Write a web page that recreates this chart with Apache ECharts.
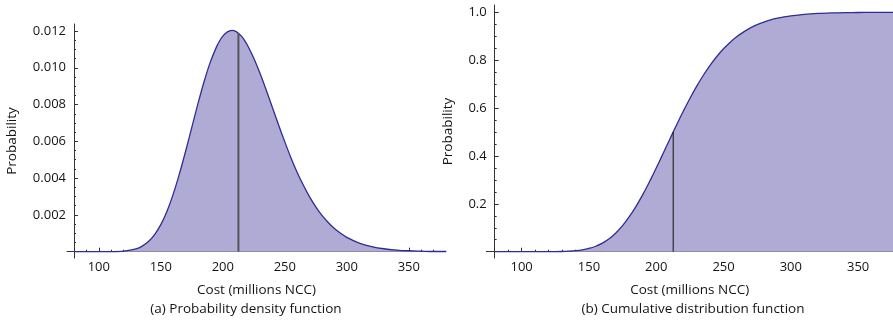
<!DOCTYPE html>
<html>
<head>
<meta charset="utf-8">
<script src="https://cdn.jsdelivr.net/npm/echarts@6/dist/echarts.min.js"></script>
<style>
html,body{margin:0;padding:0;background:#fff;}
#chart{width:893px;height:322px;}
</style>
</head>
<body>
<div id="chart"></div>
<script>
// ---- data ----
var costX = [80, 90, 100, 110, 120, 130, 135, 140, 145, 150, 155, 160, 165, 170, 175, 180, 185, 190, 195, 197.5, 200,
  202.5, 205, 207.5, 210, 212.5, 215, 217.5, 220, 225, 230, 235, 240, 245, 250, 255, 260, 265, 270, 275, 280, 285, 290, 295, 300,
  310, 320, 330, 340, 350, 360, 370, 380];
var pdfValues = [0, 0, 0, 0.000004, 0.00003, 0.00015, 0.0003, 0.00055, 0.00093, 0.00147, 0.0022, 0.00313, 0.00423, 0.00546, 0.00676, 0.00806, 0.00927, 0.01032, 0.01115, 0.01147, 0.01172,
  0.01189, 0.01199, 0.01203, 0.01199, 0.01188, 0.01172, 0.01149, 0.01121, 0.01052, 0.0097, 0.00879, 0.00784, 0.00689, 0.00597, 0.0051, 0.00431, 0.00361, 0.00298, 0.00244, 0.00197, 0.00159, 0.00126, 0.001, 0.00078,
  0.00047, 0.00028, 0.00016, 0.00009, 0.00005, 0.00003, 0.00001, 0.00001];
var cdfValues = [0, 0, 0, 0.00002, 0.00015, 0.0009, 0.002, 0.0041, 0.0077, 0.0136, 0.0228, 0.036, 0.0543, 0.0785, 0.109, 0.1461, 0.1895, 0.2384, 0.2923, 0.3207, 0.3495,
  0.379, 0.4089, 0.4391, 0.469, 0.4987, 0.5283, 0.5574, 0.5857, 0.6402, 0.6908, 0.737, 0.7785, 0.8154, 0.8475, 0.8752, 0.8987, 0.9184, 0.9348, 0.9484, 0.9593, 0.9682, 0.9753, 0.9809, 0.9854,
  0.9915, 0.9952, 0.9973, 0.9985, 0.9992, 0.9996, 0.9998, 0.9999];
var medianCost = 212.6;
var pdfAtMedian = 0.01188;
var cdfAtMedian = 0.5;

var xTickValues = [100, 150, 200, 250, 300, 350];
var xMinorTickValues = [90, 110, 120, 130, 140, 160, 170, 180, 190, 210, 220, 230, 240, 260, 270, 280, 290, 310, 320, 330, 340, 360, 370];
var pdfTickValues = [0.002, 0.004, 0.006, 0.008, 0.010, 0.012];
var pdfMinorTickValues = [0.0005, 0.001, 0.0015, 0.0025, 0.003, 0.0035, 0.0045, 0.005, 0.0055, 0.0065, 0.007, 0.0075, 0.0085, 0.009, 0.0095, 0.0105, 0.011, 0.0115];
var cdfTickValues = [0.2, 0.4, 0.6, 0.8, 1.0];
var cdfMinorTickValues = [0.05, 0.1, 0.15, 0.25, 0.3, 0.35, 0.45, 0.5, 0.55, 0.65, 0.7, 0.75, 0.85, 0.9, 0.95];

var xAxisName = 'Cost (millions NCC)';
var yAxisName = 'Probability';
var captionA = '(a) Probability density function';
var captionB = '(b) Cumulative distribution function';

// ---- styling ----
var FONT = 'Open Sans';
var AXIS_COLOR = '#333';
var TEXT_COLOR = '#141414';
var FILL = '#AFABD4';
var LINE = '#2E2D94';

function zip(xs, ys) { return xs.map(function (x, i) { return [x, ys[i]]; }); }

function majorX(grid, min, max) {
  return {
    type: 'value', gridIndex: grid, position: 'bottom', min: min, max: max,
    axisLine: { show: true, onZero: true, lineStyle: { color: AXIS_COLOR, width: 1 } },
    axisTick: { show: true, inside: true, length: 4, customValues: xTickValues, lineStyle: { color: AXIS_COLOR } },
    axisLabel: { show: true, customValues: xTickValues, margin: 3, color: TEXT_COLOR, fontFamily: FONT, fontSize: 13 },
    splitLine: { show: false },
    name: xAxisName, nameLocation: 'middle', nameGap: 25,
    nameTextStyle: { color: TEXT_COLOR, fontFamily: FONT, fontSize: 13.5 }
  };
}
function minorX(grid, min, max) {
  return {
    type: 'value', gridIndex: grid, position: 'bottom', min: min, max: max,
    axisLine: { show: false, onZero: true },
    axisTick: { show: true, inside: true, length: 2, customValues: xMinorTickValues, lineStyle: { color: AXIS_COLOR } },
    axisLabel: { show: false },
    splitLine: { show: false }
  };
}
function majorY(grid, min, max, ticks, offset, digits, gap) {
  return {
    type: 'value', gridIndex: grid, position: 'left', min: min, max: max, offset: offset,
    axisLine: { show: true, onZero: false, lineStyle: { color: AXIS_COLOR, width: 1 } },
    axisTick: { show: true, inside: true, length: 4, customValues: ticks, lineStyle: { color: AXIS_COLOR } },
    axisLabel: { show: true, customValues: ticks, margin: 8, color: TEXT_COLOR, fontFamily: FONT, fontSize: 13,
      formatter: function (v) { return Number(v).toFixed(digits); } },
    splitLine: { show: false },
    name: yAxisName, nameLocation: 'middle', nameGap: gap, nameRotate: 90,
    nameTextStyle: { color: TEXT_COLOR, fontFamily: FONT, fontSize: 13.5 }
  };
}
function minorY(grid, min, max, ticks, offset) {
  return {
    type: 'value', gridIndex: grid, position: 'left', min: min, max: max, offset: offset,
    axisLine: { show: false, onZero: false },
    axisTick: { show: true, inside: true, length: 2, customValues: ticks, lineStyle: { color: AXIS_COLOR } },
    axisLabel: { show: false },
    splitLine: { show: false }
  };
}

var chart = echarts.init(document.getElementById('chart'), null, { renderer: 'canvas' });
chart.setOption({
  animation: false,
  backgroundColor: '#fff',
  grid: [
    { left: 67, top: 24, width: 379, height: 234 },
    { left: 486.3, top: 5, width: 406.7, height: 253 }
  ],
  xAxis: [
    majorX(0, 74.35, 380),
    minorX(0, 74.35, 380),
    majorX(1, 73.76, 375.9),
    minorX(1, 73.76, 375.9)
  ],
  yAxis: [
    majorY(0, -0.000343, 0.01238, pdfTickValues, -7, 3, 55),
    minorY(0, -0.000343, 0.01238, pdfMinorTickValues, -7),
    majorY(1, -0.0263, 1.0305, cdfTickValues, -8.4, 1, 40),
    minorY(1, -0.0263, 1.0305, cdfMinorTickValues, -8.4)
  ],
  graphic: [
    { type: 'text', x: 246, y: 309, style: { text: captionA, fill: TEXT_COLOR, font: '13.5px "Open Sans"', textAlign: 'center', textVerticalAlign: 'middle' } },
    { type: 'text', x: 693, y: 309, style: { text: captionB, fill: TEXT_COLOR, font: '13.5px "Open Sans"', textAlign: 'center', textVerticalAlign: 'middle' } }
  ],
  series: [
    {
      type: 'line', xAxisIndex: 0, yAxisIndex: 0, data: zip(costX, pdfValues),
      smooth: 0.3, showSymbol: false, z: 2,
      lineStyle: { color: LINE, width: 1.3 },
      areaStyle: { color: FILL, opacity: 1 }
    },
    {
      type: 'line', xAxisIndex: 0, yAxisIndex: 0, data: [[medianCost, 0], [medianCost, pdfAtMedian]],
      showSymbol: false, z: 3, lineStyle: { color: '#55555f', width: 2 }
    },
    {
      type: 'line', xAxisIndex: 2, yAxisIndex: 2, data: zip(costX, cdfValues),
      smooth: 0.3, showSymbol: false, z: 2,
      lineStyle: { color: LINE, width: 1.3 },
      areaStyle: { color: FILL, opacity: 1 }
    },
    {
      type: 'line', xAxisIndex: 2, yAxisIndex: 2, data: [[medianCost, 0], [medianCost, cdfAtMedian]],
      showSymbol: false, z: 3, lineStyle: { color: '#111', width: 1 }
    }
  ]
});
</script>
</body>
</html>
